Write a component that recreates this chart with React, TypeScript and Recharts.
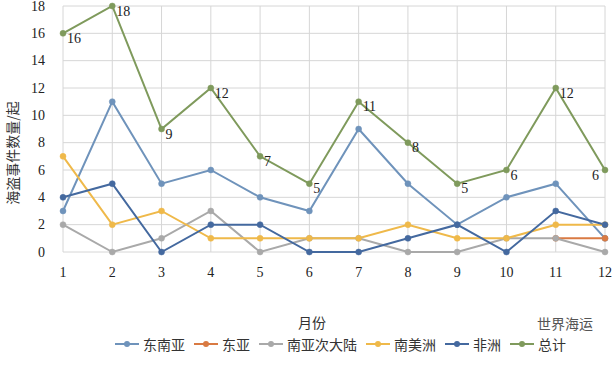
import React from "react";
import { LineChart, Line, XAxis, YAxis, CartesianGrid, Legend } from "recharts";

const months = [1, 2, 3, 4, 5, 6, 7, 8, 9, 10, 11, 12];
const yTicks = [0, 2, 4, 6, 8, 10, 12, 14, 16, 18];
const southeastAsia = [3, 11, 5, 6, 4, 3, 9, 5, 2, 4, 5, 1];
const eastAsia: (number | null)[] = [null, null, null, null, null, null, null, null, null, null, 1, 1];
const southAsia = [2, 0, 1, 3, 0, 1, 1, 0, 0, 1, 1, 0];
const southAmerica = [7, 2, 3, 1, 1, 1, 1, 2, 1, 1, 2, 2];
const africa = [4, 5, 0, 2, 2, 0, 0, 1, 2, 0, 3, 2];
const total = [16, 18, 9, 12, 7, 5, 11, 8, 5, 6, 12, 6];

const series = [
  { key: "se", name: "东南亚", color: "#6f93bb", values: southeastAsia },
  { key: "ea", name: "东亚", color: "#d97a43", values: eastAsia },
  { key: "sa", name: "南亚次大陆", color: "#a9a9a9", values: southAsia },
  { key: "sam", name: "南美洲", color: "#efb94a", values: southAmerica },
  { key: "af", name: "非洲", color: "#44699f", values: africa },
  { key: "tot", name: "总计", color: "#7f9a5c", values: total },
];

const data = months.map((m, i) => {
  const row: Record<string, number | null> = { month: m };
  series.forEach((s) => {
    row[s.key] = s.values[i];
  });
  return row;
});

const serif = "Liberation Serif";
const cjk = "Noto Sans CJK SC";

const TotalLabel = (props: any) => {
  const { x, y, value, index } = props;
  const last = index === months.length - 1;
  return (
    <text
      x={last ? x - 6 : x + 4}
      y={y + 5}
      textAnchor={last ? "end" : "start"}
      dominantBaseline="central"
      style={{ fontFamily: serif, fontSize: 14 }}
      fill="#222"
    >
      {value}
    </text>
  );
};

const XTick = (props: any) => {
  const { x, y, payload } = props;
  return (
    <text x={x} y={y + 7} textAnchor="middle" dominantBaseline="hanging" style={{ fontFamily: serif, fontSize: 14 }} fill="#222">
      {payload.value}
    </text>
  );
};

const YTick = (props: any) => {
  const { x, y, payload } = props;
  return (
    <text x={x - 10} y={y} textAnchor="end" dominantBaseline="central" style={{ fontFamily: serif, fontSize: 14 }} fill="#222">
      {payload.value}
    </text>
  );
};

const LegendContent = () => (
  <div
    style={{
      display: "flex",
      justifyContent: "flex-start",
      alignItems: "center",
      paddingLeft: 115,
      height: 20,
      fontFamily: cjk,
      fontSize: 14,
      color: "#333",
      whiteSpace: "nowrap",
    }}
  >
    {series.map((s) => (
      <div key={s.key} style={{ display: "flex", alignItems: "center", marginRight: 9 }}>
        <svg width={24} height={10} style={{ marginRight: 4 }}>
          <line x1={0} y1={5} x2={24} y2={5} stroke={s.color} strokeWidth={2} />
          <circle cx={12} cy={5} r={3} fill={s.color} />
        </svg>
        <span>{s.name}</span>
      </div>
    ))}
  </div>
);

export default function App() {
  return (
    <div style={{ position: "absolute", left: 0, top: 0, width: 614, height: 365, background: "#fff" }}>
      <LineChart
        width={614}
        height={365}
        data={data}
        margin={{ top: 6, right: 9, left: 0, bottom: 12 }}
      >
        <CartesianGrid stroke="#d6d6d6" strokeWidth={1} />
        <XAxis
          type="number"
          dataKey="month"
          domain={[1, 12]}
          ticks={months}
          tickLine={false}
          axisLine={false}
          height={81}
          tick={<XTick />}
        />
        <YAxis
          domain={[0, 18]}
          ticks={yTicks}
          width={63}
          tickLine={false}
          axisLine={false}
          interval={0}
          tick={<YTick />}
        />
        <Legend
          verticalAlign="bottom"
          height={20}
          content={<LegendContent />}
          wrapperStyle={{ position: "absolute", top: 334, left: 0, width: 614, height: 20 }}
        />
        {series.map((s) => (
          <Line
            key={s.key}
            dataKey={s.key}
            name={s.name}
            stroke={s.color}
            strokeWidth={2}
            dot={{ r: 3, fill: s.color, stroke: s.color, strokeWidth: 0.5 }}
            activeDot={false}
            isAnimationActive={false}
            label={s.key === "tot" ? <TotalLabel /> : undefined}
          />
        ))}
        <text
          x={12}
          y={153}
          transform="rotate(-90 12 153)"
          textAnchor="middle"
          dominantBaseline="central"
          style={{ fontFamily: cjk, fontSize: 14 }}
          fill="#333"
        >
          海盗事件数量/起
        </text>
        <text x={312} y={322} textAnchor="middle" dominantBaseline="central" style={{ fontFamily: cjk, fontSize: 14 }} fill="#333">
          月份
        </text>
        <text x={537} y={323} dominantBaseline="central" style={{ fontFamily: cjk, fontSize: 14 }} fill="#555">
          世界海运
        </text>
      </LineChart>
    </div>
  );
}
